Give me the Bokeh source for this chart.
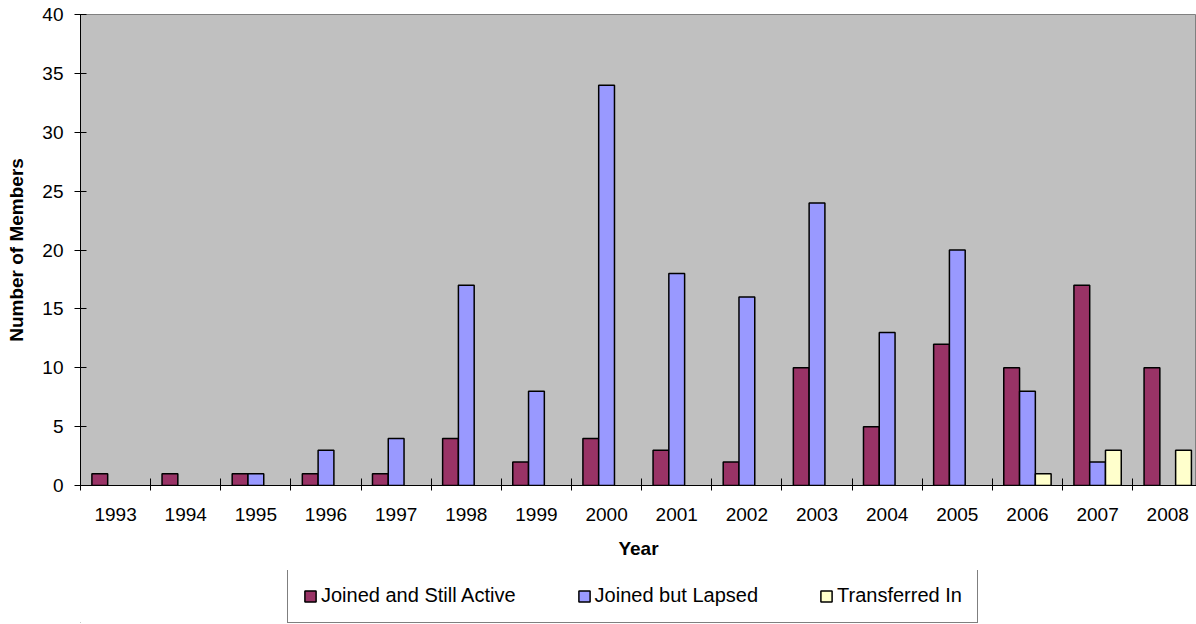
from bokeh.plotting import figure
from bokeh.layouts import column
from bokeh.models import Range1d, FixedTicker, Legend, LegendItem, ColumnDataSource
from bokeh.embed import file_html
from bokeh.resources import INLINE

years = ["1993", "1994", "1995", "1996", "1997", "1998", "1999", "2000",
         "2001", "2002", "2003", "2004", "2005", "2006", "2007", "2008"]
active = [1, 1, 1, 1, 1, 4, 2, 4, 3, 2, 10, 5, 12, 10, 17, 10]
lapsed = [0, 0, 1, 3, 4, 17, 8, 34, 18, 16, 24, 13, 20, 8, 2, 0]
transferred = [0, 0, 0, 0, 0, 0, 0, 0, 0, 0, 0, 0, 0, 1, 3, 3]

series_names = ["Joined and Still Active", "Joined but Lapsed", "Transferred In"]
series_colors = ["#993366", "#9999FF", "#FFFFCC"]
series_values = [active, lapsed, transferred]

FONT = "Liberation Sans"
BAR_W = 0.225

p = figure(frame_width=1116, frame_height=471,
           x_range=Range1d(0, 15.91), y_range=Range1d(0, 40),
           output_backend="svg", toolbar_location=None,
           min_border_left=80, min_border_right=0, min_border_top=14,
           min_border_bottom=85, background_fill_color="#C0C0C0",
           border_fill_color="white", outline_line_color="#808080")
p.xgrid.visible = False
p.ygrid.visible = False

for k, (vals, col) in enumerate(zip(series_values, series_colors)):
    xs, tops = [], []
    for i, v in enumerate(vals):
        if v > 0:
            xs.append(i + 0.5 + (k - 1) * BAR_W)
            tops.append(v)
    src = ColumnDataSource(dict(x=xs, top=tops))
    p.vbar(x="x", top="top", bottom=0, width=BAR_W, source=src,
           fill_color=col, line_color="black", line_width=1.5)

# x axis
centers = [i + 0.5 for i in range(len(years))]
bounds = list(range(len(years) + 1))
xa = p.xaxis[0]
xa.ticker = FixedTicker(ticks=centers, minor_ticks=bounds)
xa.major_label_overrides = {c: y for c, y in zip(centers, years)}
xa.major_tick_in = 0
xa.major_tick_out = 0
xa.minor_tick_in = 7
xa.minor_tick_out = 5
xa.minor_tick_line_color = "black"
xa.axis_line_color = "black"
xa.major_label_text_font = FONT
xa.major_label_text_font_size = "19px"
xa.major_label_text_color = "black"
xa.major_label_standoff = 17
xa.axis_label = "Year"
xa.axis_label_text_font = FONT
xa.axis_label_text_font_style = "bold"
xa.axis_label_text_font_size = "19px"
xa.axis_label_text_color = "black"
xa.axis_label_standoff = 14

# y axis
ya = p.yaxis[0]
ya.ticker = FixedTicker(ticks=[0, 5, 10, 15, 20, 25, 30, 35, 40])
ya.major_tick_in = 6
ya.major_tick_out = 6
ya.minor_tick_line_color = None
ya.axis_line_color = "black"
ya.major_tick_line_color = "black"
ya.major_label_text_font = FONT
ya.major_label_text_font_size = "19px"
ya.major_label_text_color = "black"
ya.major_label_standoff = 11
ya.axis_label = "Number of Members"
ya.axis_label_text_font = FONT
ya.axis_label_text_font_style = "bold"
ya.axis_label_text_font_size = "19px"
ya.axis_label_text_color = "black"
ya.axis_label_standoff = 12

# legend strip underneath (swatch renderers lie outside its ranges, so only the legend shows)
p2 = figure(width=1196, height=53, x_range=Range1d(0, 1), y_range=Range1d(0, 1),
            output_backend="svg", toolbar_location=None,
            x_axis_location=None, y_axis_location=None,
            min_border=0, outline_line_color=None,
            background_fill_color="white", border_fill_color="white")
p2.xgrid.visible = False
p2.ygrid.visible = False
items = []
for n, col in zip(series_names, series_colors):
    r = p2.vbar(x=[-5], top=[-5], bottom=-6, width=0.1,
                fill_color=col, line_color="black", line_width=1.5)
    items.append(LegendItem(label=n, renderers=[r]))

legend = Legend(items=items, orientation="horizontal", location=(207, 0),
                label_text_font=FONT, label_text_font_size="20px",
                label_text_color="black",
                glyph_width=14, glyph_height=14, label_standoff=4, spacing=61,
                padding=15, margin=0, border_line_color="black", border_line_width=1,
                label_height=14, background_fill_alpha=1.0)
p2.add_layout(legend)

layout = column(p, p2, spacing=0)
open("out.html", "w").write(file_html(layout, INLINE))
